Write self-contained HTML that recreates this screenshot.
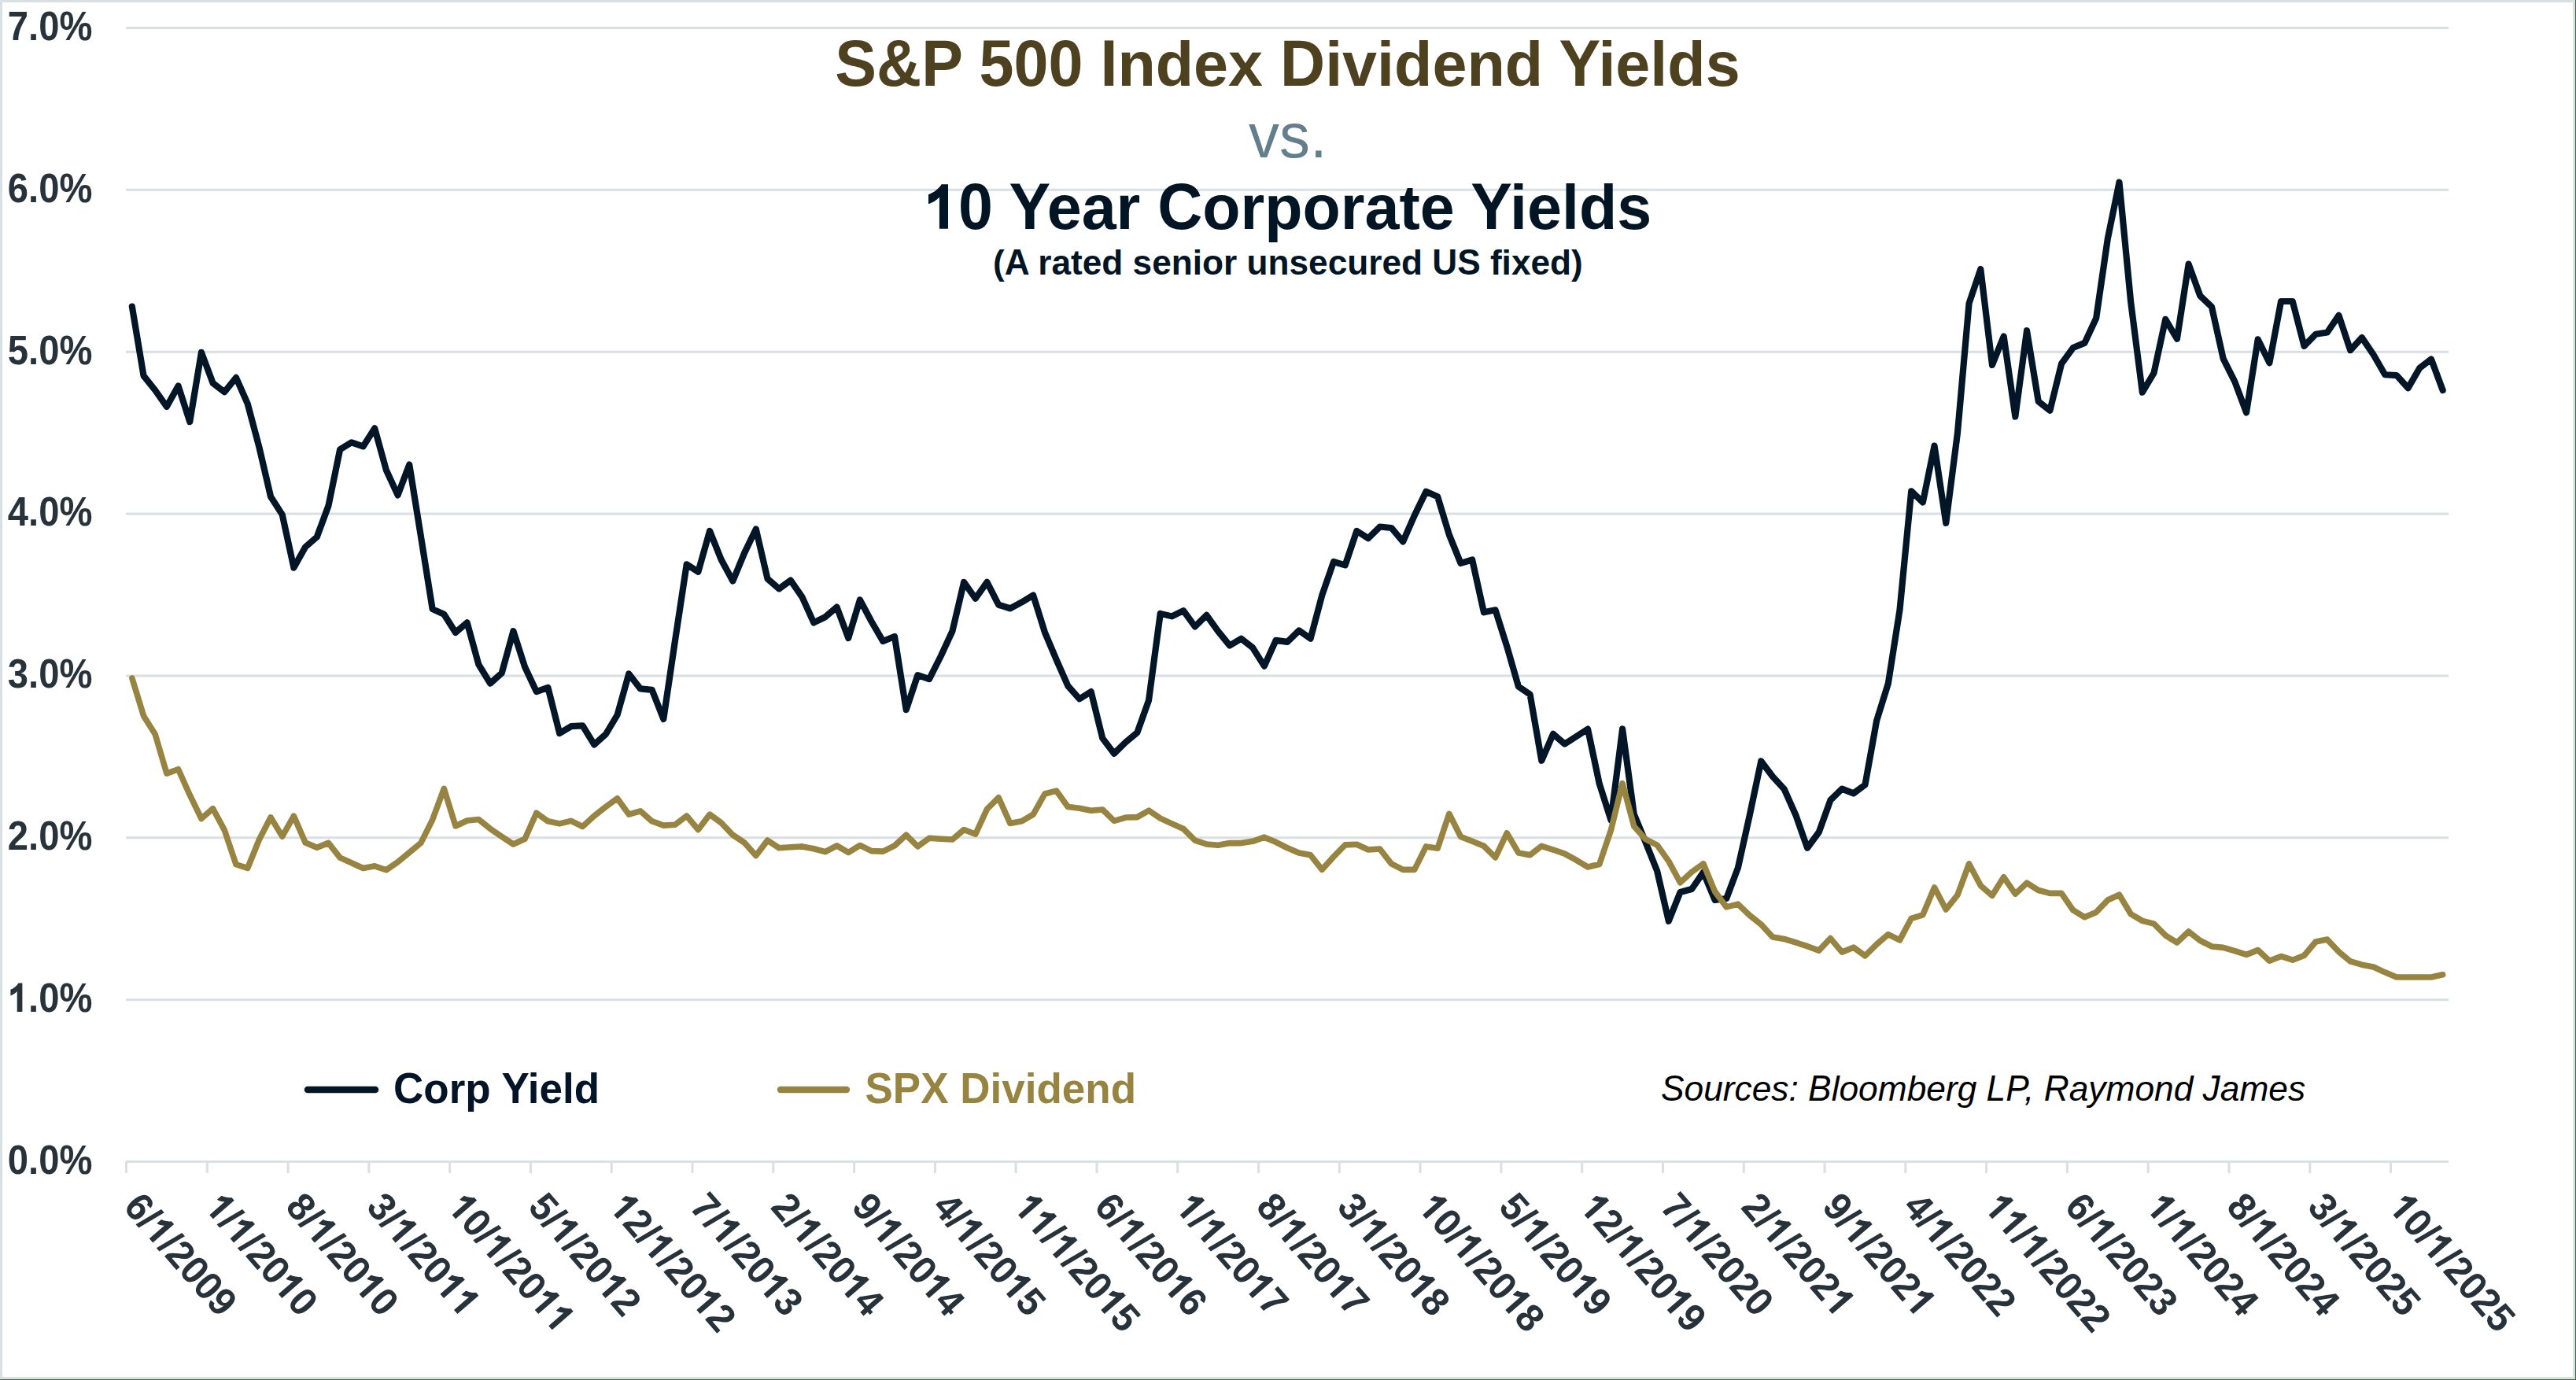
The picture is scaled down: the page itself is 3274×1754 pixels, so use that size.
<!DOCTYPE html><html><head><meta charset="utf-8"><title>S&amp;P 500 Dividend Yields vs Corporate Yields</title><style>
html,body{margin:0;padding:0;background:#fff;}body{width:3274px;height:1754px;overflow:hidden;position:relative;}
svg{position:absolute;left:0;top:0;display:block;}text{font-family:"Liberation Sans",sans-serif;}
</style></head><body>
<svg width="3274" height="1754" viewBox="0 0 3274 1754">
<defs><path id="one" d="M516 0L804 0L804 1466L586 1466C556 1408 486 1334 400 1268C320 1208 236 1162 155 1129L155 817C292 862 420 936 516 1038Z"/></defs>
<rect x="0" y="0" width="3274" height="1754" fill="#ffffff"/>
<rect x="1.5" y="1.5" width="3270" height="1750" fill="none" stroke="#d9e0e3" stroke-width="3"/>
<rect x="3273" y="0" width="1" height="1754" fill="#3c6b40"/>
<rect x="0" y="1753" width="3274" height="1" fill="#3c6b40"/>
<path d="M160.0 1270.64H3112.0M160.0 1064.79H3112.0M160.0 858.93H3112.0M160.0 653.07H3112.0M160.0 447.21H3112.0M160.0 241.36H3112.0M160.0 35.50H3112.0" stroke="#d9e0e3" stroke-width="3" fill="none"/>
<path d="M160.0 1476.50H3112.0M160.50 1476.50V1491.0M263.29 1476.50V1491.0M366.08 1476.50V1491.0M468.87 1476.50V1491.0M571.65 1476.50V1491.0M674.44 1476.50V1491.0M777.23 1476.50V1491.0M880.02 1476.50V1491.0M982.81 1476.50V1491.0M1085.60 1476.50V1491.0M1188.39 1476.50V1491.0M1291.17 1476.50V1491.0M1393.96 1476.50V1491.0M1496.75 1476.50V1491.0M1599.54 1476.50V1491.0M1702.33 1476.50V1491.0M1805.12 1476.50V1491.0M1907.91 1476.50V1491.0M2010.69 1476.50V1491.0M2113.48 1476.50V1491.0M2216.27 1476.50V1491.0M2319.06 1476.50V1491.0M2421.85 1476.50V1491.0M2524.64 1476.50V1491.0M2627.43 1476.50V1491.0M2730.21 1476.50V1491.0M2833.00 1476.50V1491.0M2935.79 1476.50V1491.0M3038.58 1476.50V1491.0" stroke="#d9e0e3" stroke-width="3" fill="none"/>
<polyline points="167.84,389.58 182.53,477.68 197.21,496.00 211.89,516.79 226.58,490.44 241.26,536.15 255.95,447.83 270.63,486.95 285.31,498.27 300.00,479.95 314.68,513.09 329.37,568.26 344.05,631.25 358.74,654.10 373.42,721.62 388.10,695.27 402.79,682.51 417.47,642.78 432.16,571.14 446.84,562.29 461.52,567.44 476.21,544.38 490.89,597.49 505.58,629.40 520.26,590.49 534.94,681.89 549.63,774.12 564.31,780.70 579.00,803.97 593.68,791.41 608.36,844.72 623.05,868.60 637.73,855.43 652.42,802.11 667.10,847.81 681.78,879.10 696.47,873.96 711.15,932.01 725.84,923.16 740.52,922.33 755.21,946.42 769.89,933.24 784.57,908.75 799.26,856.46 813.94,875.40 828.63,876.84 843.31,913.89 857.99,814.46 872.68,717.30 887.36,726.77 902.05,674.89 916.73,711.54 931.41,738.50 946.10,702.89 960.78,672.42 975.47,735.62 990.15,748.38 1004.83,737.68 1019.52,758.88 1034.20,791.41 1048.89,784.20 1063.57,771.65 1078.25,810.96 1092.94,762.38 1107.62,789.97 1122.31,815.08 1136.99,808.91 1151.68,902.16 1166.36,858.11 1181.04,863.05 1195.73,834.02 1210.41,802.32 1225.10,739.94 1239.78,760.74 1254.46,739.94 1269.15,768.76 1283.83,773.29 1298.52,765.47 1313.20,756.62 1327.88,803.55 1342.57,838.34 1357.25,871.69 1371.94,888.37 1386.62,879.10 1401.30,938.39 1415.99,957.74 1430.67,943.33 1445.36,931.18 1460.04,890.01 1474.73,779.88 1489.41,783.38 1504.09,776.17 1518.78,796.35 1533.46,781.94 1548.15,802.32 1562.83,820.43 1577.51,811.79 1592.20,823.32 1606.88,846.58 1621.57,813.85 1636.25,815.90 1650.93,801.49 1665.62,811.58 1680.30,756.41 1694.99,714.01 1709.67,718.33 1724.35,674.89 1739.04,684.16 1753.72,669.54 1768.41,670.98 1783.09,688.48 1797.77,655.13 1812.46,624.66 1827.14,631.25 1841.83,679.63 1856.51,715.86 1871.20,711.54 1885.88,778.23 1900.56,775.35 1915.25,821.67 1929.93,872.52 1944.62,882.60 1959.30,966.80 1973.98,932.83 1988.67,945.59 2003.35,936.13 2018.04,926.66 2032.72,996.03 2047.40,1042.14 2062.09,926.45 2076.77,1034.94 2091.46,1070.34 2106.14,1106.99 2120.82,1170.80 2135.51,1133.95 2150.19,1130.04 2164.88,1108.63 2179.56,1144.04 2194.25,1141.98 2208.93,1102.87 2223.61,1036.79 2238.30,967.42 2252.98,986.97 2267.67,1003.03 2282.35,1035.97 2297.03,1077.75 2311.72,1057.79 2326.40,1017.03 2341.09,1002.62 2355.77,1008.38 2370.45,997.47 2385.14,915.95 2399.82,868.81 2414.51,775.15 2429.19,624.25 2443.87,638.46 2458.56,566.61 2473.24,664.81 2487.93,550.56 2502.61,385.46 2517.29,342.02 2531.98,463.89 2546.66,427.45 2561.35,529.56 2576.03,420.25 2590.72,510.21 2605.40,521.74 2620.08,462.24 2634.77,442.07 2649.45,435.89 2664.14,404.60 2678.82,303.32 2693.50,231.68 2708.19,384.02 2722.87,498.68 2737.56,473.98 2752.24,405.84 2766.92,430.75 2781.61,335.64 2796.29,375.99 2810.98,389.99 2825.66,455.86 2840.34,485.09 2855.03,524.41 2869.71,431.36 2884.40,461.21 2899.08,382.99 2913.76,382.99 2928.45,439.80 2943.13,424.78 2957.82,422.51 2972.50,400.90 2987.19,445.16 3001.87,429.10 3016.55,450.71 3031.24,476.24 3045.92,477.06 3060.61,493.12 3075.29,467.80 3089.97,456.48 3104.66,496.00" fill="none" stroke="#021627" stroke-width="8.2" stroke-linejoin="round" stroke-linecap="round"/>
<polyline points="167.84,861.81 182.53,909.98 197.21,933.24 211.89,983.06 226.58,977.71 241.26,1010.44 255.95,1040.49 270.63,1027.73 285.31,1055.11 300.00,1098.75 314.68,1103.49 329.37,1067.26 344.05,1038.85 358.74,1063.14 373.42,1037.20 388.10,1070.96 402.79,1077.34 417.47,1071.37 432.16,1090.11 446.84,1096.69 461.52,1103.49 476.21,1100.81 490.89,1105.75 505.58,1095.66 520.26,1083.52 534.94,1071.37 549.63,1041.94 564.31,1002.41 579.00,1049.96 593.68,1042.97 608.36,1041.52 623.05,1053.26 637.73,1063.35 652.42,1073.02 667.10,1066.23 681.78,1033.29 696.47,1043.79 711.15,1046.88 725.84,1043.38 740.52,1050.58 755.21,1037.00 769.89,1025.47 784.57,1014.76 799.26,1035.14 813.94,1030.82 828.63,1043.79 843.31,1049.14 857.99,1048.32 872.68,1037.00 887.36,1054.49 902.05,1035.14 916.73,1045.85 931.41,1061.29 946.10,1070.96 960.78,1087.43 975.47,1068.08 990.15,1077.75 1004.83,1076.73 1019.52,1075.90 1034.20,1078.78 1048.89,1082.70 1063.57,1074.87 1078.25,1083.52 1092.94,1074.46 1107.62,1081.67 1122.31,1082.08 1136.99,1074.87 1151.68,1061.29 1166.36,1075.90 1181.04,1065.20 1195.73,1066.23 1210.41,1067.05 1225.10,1054.49 1239.78,1060.26 1254.46,1028.35 1269.15,1013.73 1283.83,1046.46 1298.52,1043.79 1313.20,1035.14 1327.88,1009.00 1342.57,1005.09 1357.25,1025.47 1371.94,1027.32 1386.62,1030.20 1401.30,1028.97 1415.99,1043.38 1430.67,1039.05 1445.36,1038.64 1460.04,1030.20 1474.73,1040.08 1489.41,1046.88 1504.09,1053.46 1518.78,1068.08 1533.46,1073.02 1548.15,1074.26 1562.83,1071.58 1577.51,1071.58 1592.20,1069.31 1606.88,1064.17 1621.57,1070.34 1636.25,1077.75 1650.93,1083.93 1665.62,1086.81 1680.30,1105.34 1694.99,1088.87 1709.67,1073.84 1724.35,1073.23 1739.04,1080.02 1753.72,1078.99 1768.41,1097.93 1783.09,1105.34 1797.77,1105.34 1812.46,1075.90 1827.14,1078.17 1841.83,1034.32 1856.51,1063.55 1871.20,1069.31 1885.88,1075.28 1900.56,1089.90 1915.25,1058.82 1929.93,1083.93 1944.62,1086.81 1959.30,1075.28 1973.98,1080.02 1988.67,1085.17 2003.35,1093.19 2018.04,1102.05 2032.72,1098.55 2047.40,1055.32 2062.09,995.62 2076.77,1050.17 2091.46,1066.64 2106.14,1074.05 2120.82,1094.64 2135.51,1121.81 2150.19,1108.22 2164.88,1097.72 2179.56,1133.13 2194.25,1152.89 2208.93,1149.19 2223.61,1163.19 2238.30,1174.92 2252.98,1190.98 2267.67,1193.45 2282.35,1197.98 2297.03,1202.71 2311.72,1208.06 2326.40,1192.62 2341.09,1210.12 2355.77,1204.15 2370.45,1214.86 2385.14,1200.24 2399.82,1187.68 2414.51,1194.89 2429.19,1167.30 2443.87,1162.77 2458.56,1127.98 2473.24,1155.98 2487.93,1137.66 2502.61,1097.93 2517.29,1125.51 2531.98,1138.28 2546.66,1114.81 2561.35,1136.22 2576.03,1122.22 2590.72,1131.48 2605.40,1135.39 2620.08,1135.39 2634.77,1156.80 2649.45,1165.66 2664.14,1159.48 2678.82,1144.04 2693.50,1137.25 2708.19,1161.74 2722.87,1170.39 2737.56,1174.10 2752.24,1188.92 2766.92,1197.98 2781.61,1183.98 2796.29,1195.51 2810.98,1202.92 2825.66,1204.36 2840.34,1208.68 2855.03,1213.41 2869.71,1207.65 2884.40,1221.24 2899.08,1215.47 2913.76,1220.21 2928.45,1214.44 2943.13,1196.95 2957.82,1194.06 2972.50,1209.71 2987.19,1221.85 3001.87,1226.18 3016.55,1229.06 3031.24,1235.85 3045.92,1242.03 3060.61,1242.03 3075.29,1242.03 3089.97,1242.03 3104.66,1238.74" fill="none" stroke="#978441" stroke-width="7.6" stroke-linejoin="round" stroke-linecap="round"/>
<g transform="translate(117.50 1491.80) scale(0.964 1.04) translate(-111.69 0)"><text x="0.00 27.25 40.87 68.12" y="0" font-size="49" font-weight="bold" fill="#27323a">0.0%</text></g>
<g transform="translate(117.50 1285.94) scale(0.964 1.04) translate(-111.69 0)"><text x="27.25 40.87 68.12" y="0" font-size="49" font-weight="bold" fill="#27323a">.0%</text><use href="#one" transform="translate(0.00 0) scale(0.02393 -0.02393)" fill="#27323a"/></g>
<g transform="translate(117.50 1080.09) scale(0.964 1.04) translate(-111.69 0)"><text x="0.00 27.25 40.87 68.12" y="0" font-size="49" font-weight="bold" fill="#27323a">2.0%</text></g>
<g transform="translate(117.50 874.23) scale(0.964 1.04) translate(-111.69 0)"><text x="0.00 27.25 40.87 68.12" y="0" font-size="49" font-weight="bold" fill="#27323a">3.0%</text></g>
<g transform="translate(117.50 668.37) scale(0.964 1.04) translate(-111.69 0)"><text x="0.00 27.25 40.87 68.12" y="0" font-size="49" font-weight="bold" fill="#27323a">4.0%</text></g>
<g transform="translate(117.50 462.51) scale(0.964 1.04) translate(-111.69 0)"><text x="0.00 27.25 40.87 68.12" y="0" font-size="49" font-weight="bold" fill="#27323a">5.0%</text></g>
<g transform="translate(117.50 256.66) scale(0.964 1.04) translate(-111.69 0)"><text x="0.00 27.25 40.87 68.12" y="0" font-size="49" font-weight="bold" fill="#27323a">6.0%</text></g>
<g transform="translate(117.50 50.80) scale(0.964 1.04) translate(-111.69 0)"><text x="0.00 27.25 40.87 68.12" y="0" font-size="49" font-weight="bold" fill="#27323a">7.0%</text></g>
<g transform="translate(155.60 1535.00) rotate(49) scale(1 1.04)"><text x="0.00 26.70 66.73 80.06 106.76 133.45 160.15" y="0" font-size="48" font-weight="bold" fill="#27323a">6//2009</text><use href="#one" transform="translate(40.03 0) scale(0.02344 -0.02344)" fill="#27323a"/></g>
<g transform="translate(258.39 1535.00) rotate(49) scale(1 1.04)"><text x="26.70 66.73 80.06 106.76 160.15" y="0" font-size="48" font-weight="bold" fill="#27323a">//200</text><use href="#one" transform="translate(0.00 0) scale(0.02344 -0.02344)" fill="#27323a"/><use href="#one" transform="translate(40.03 0) scale(0.02344 -0.02344)" fill="#27323a"/><use href="#one" transform="translate(133.45 0) scale(0.02344 -0.02344)" fill="#27323a"/></g>
<g transform="translate(361.18 1535.00) rotate(49) scale(1 1.04)"><text x="0.00 26.70 66.73 80.06 106.76 160.15" y="0" font-size="48" font-weight="bold" fill="#27323a">8//200</text><use href="#one" transform="translate(40.03 0) scale(0.02344 -0.02344)" fill="#27323a"/><use href="#one" transform="translate(133.45 0) scale(0.02344 -0.02344)" fill="#27323a"/></g>
<g transform="translate(463.97 1535.00) rotate(49) scale(1 1.04)"><text x="0.00 26.70 66.73 80.06 106.76" y="0" font-size="48" font-weight="bold" fill="#27323a">3//20</text><use href="#one" transform="translate(40.03 0) scale(0.02344 -0.02344)" fill="#27323a"/><use href="#one" transform="translate(133.45 0) scale(0.02344 -0.02344)" fill="#27323a"/><use href="#one" transform="translate(160.15 0) scale(0.02344 -0.02344)" fill="#27323a"/></g>
<g transform="translate(566.75 1535.00) rotate(49) scale(1 1.04)"><text x="26.70 53.39 93.42 106.76 133.45" y="0" font-size="48" font-weight="bold" fill="#27323a">0//20</text><use href="#one" transform="translate(0.00 0) scale(0.02344 -0.02344)" fill="#27323a"/><use href="#one" transform="translate(66.73 0) scale(0.02344 -0.02344)" fill="#27323a"/><use href="#one" transform="translate(160.15 0) scale(0.02344 -0.02344)" fill="#27323a"/><use href="#one" transform="translate(186.84 0) scale(0.02344 -0.02344)" fill="#27323a"/></g>
<g transform="translate(669.54 1535.00) rotate(49) scale(1 1.04)"><text x="0.00 26.70 66.73 80.06 106.76 160.15" y="0" font-size="48" font-weight="bold" fill="#27323a">5//202</text><use href="#one" transform="translate(40.03 0) scale(0.02344 -0.02344)" fill="#27323a"/><use href="#one" transform="translate(133.45 0) scale(0.02344 -0.02344)" fill="#27323a"/></g>
<g transform="translate(772.33 1535.00) rotate(49) scale(1 1.04)"><text x="26.70 53.39 93.42 106.76 133.45 186.84" y="0" font-size="48" font-weight="bold" fill="#27323a">2//202</text><use href="#one" transform="translate(0.00 0) scale(0.02344 -0.02344)" fill="#27323a"/><use href="#one" transform="translate(66.73 0) scale(0.02344 -0.02344)" fill="#27323a"/><use href="#one" transform="translate(160.15 0) scale(0.02344 -0.02344)" fill="#27323a"/></g>
<g transform="translate(875.12 1535.00) rotate(49) scale(1 1.04)"><text x="0.00 26.70 66.73 80.06 106.76 160.15" y="0" font-size="48" font-weight="bold" fill="#27323a">7//203</text><use href="#one" transform="translate(40.03 0) scale(0.02344 -0.02344)" fill="#27323a"/><use href="#one" transform="translate(133.45 0) scale(0.02344 -0.02344)" fill="#27323a"/></g>
<g transform="translate(977.91 1535.00) rotate(49) scale(1 1.04)"><text x="0.00 26.70 66.73 80.06 106.76 160.15" y="0" font-size="48" font-weight="bold" fill="#27323a">2//204</text><use href="#one" transform="translate(40.03 0) scale(0.02344 -0.02344)" fill="#27323a"/><use href="#one" transform="translate(133.45 0) scale(0.02344 -0.02344)" fill="#27323a"/></g>
<g transform="translate(1080.70 1535.00) rotate(49) scale(1 1.04)"><text x="0.00 26.70 66.73 80.06 106.76 160.15" y="0" font-size="48" font-weight="bold" fill="#27323a">9//204</text><use href="#one" transform="translate(40.03 0) scale(0.02344 -0.02344)" fill="#27323a"/><use href="#one" transform="translate(133.45 0) scale(0.02344 -0.02344)" fill="#27323a"/></g>
<g transform="translate(1183.49 1535.00) rotate(49) scale(1 1.04)"><text x="0.00 26.70 66.73 80.06 106.76 160.15" y="0" font-size="48" font-weight="bold" fill="#27323a">4//205</text><use href="#one" transform="translate(40.03 0) scale(0.02344 -0.02344)" fill="#27323a"/><use href="#one" transform="translate(133.45 0) scale(0.02344 -0.02344)" fill="#27323a"/></g>
<g transform="translate(1286.27 1535.00) rotate(49) scale(1 1.04)"><text x="53.39 93.42 106.76 133.45 186.84" y="0" font-size="48" font-weight="bold" fill="#27323a">//205</text><use href="#one" transform="translate(0.00 0) scale(0.02344 -0.02344)" fill="#27323a"/><use href="#one" transform="translate(26.70 0) scale(0.02344 -0.02344)" fill="#27323a"/><use href="#one" transform="translate(66.73 0) scale(0.02344 -0.02344)" fill="#27323a"/><use href="#one" transform="translate(160.15 0) scale(0.02344 -0.02344)" fill="#27323a"/></g>
<g transform="translate(1389.06 1535.00) rotate(49) scale(1 1.04)"><text x="0.00 26.70 66.73 80.06 106.76 160.15" y="0" font-size="48" font-weight="bold" fill="#27323a">6//206</text><use href="#one" transform="translate(40.03 0) scale(0.02344 -0.02344)" fill="#27323a"/><use href="#one" transform="translate(133.45 0) scale(0.02344 -0.02344)" fill="#27323a"/></g>
<g transform="translate(1491.85 1535.00) rotate(49) scale(1 1.04)"><text x="26.70 66.73 80.06 106.76 160.15" y="0" font-size="48" font-weight="bold" fill="#27323a">//207</text><use href="#one" transform="translate(0.00 0) scale(0.02344 -0.02344)" fill="#27323a"/><use href="#one" transform="translate(40.03 0) scale(0.02344 -0.02344)" fill="#27323a"/><use href="#one" transform="translate(133.45 0) scale(0.02344 -0.02344)" fill="#27323a"/></g>
<g transform="translate(1594.64 1535.00) rotate(49) scale(1 1.04)"><text x="0.00 26.70 66.73 80.06 106.76 160.15" y="0" font-size="48" font-weight="bold" fill="#27323a">8//207</text><use href="#one" transform="translate(40.03 0) scale(0.02344 -0.02344)" fill="#27323a"/><use href="#one" transform="translate(133.45 0) scale(0.02344 -0.02344)" fill="#27323a"/></g>
<g transform="translate(1697.43 1535.00) rotate(49) scale(1 1.04)"><text x="0.00 26.70 66.73 80.06 106.76 160.15" y="0" font-size="48" font-weight="bold" fill="#27323a">3//208</text><use href="#one" transform="translate(40.03 0) scale(0.02344 -0.02344)" fill="#27323a"/><use href="#one" transform="translate(133.45 0) scale(0.02344 -0.02344)" fill="#27323a"/></g>
<g transform="translate(1800.22 1535.00) rotate(49) scale(1 1.04)"><text x="26.70 53.39 93.42 106.76 133.45 186.84" y="0" font-size="48" font-weight="bold" fill="#27323a">0//208</text><use href="#one" transform="translate(0.00 0) scale(0.02344 -0.02344)" fill="#27323a"/><use href="#one" transform="translate(66.73 0) scale(0.02344 -0.02344)" fill="#27323a"/><use href="#one" transform="translate(160.15 0) scale(0.02344 -0.02344)" fill="#27323a"/></g>
<g transform="translate(1903.01 1535.00) rotate(49) scale(1 1.04)"><text x="0.00 26.70 66.73 80.06 106.76 160.15" y="0" font-size="48" font-weight="bold" fill="#27323a">5//209</text><use href="#one" transform="translate(40.03 0) scale(0.02344 -0.02344)" fill="#27323a"/><use href="#one" transform="translate(133.45 0) scale(0.02344 -0.02344)" fill="#27323a"/></g>
<g transform="translate(2005.79 1535.00) rotate(49) scale(1 1.04)"><text x="26.70 53.39 93.42 106.76 133.45 186.84" y="0" font-size="48" font-weight="bold" fill="#27323a">2//209</text><use href="#one" transform="translate(0.00 0) scale(0.02344 -0.02344)" fill="#27323a"/><use href="#one" transform="translate(66.73 0) scale(0.02344 -0.02344)" fill="#27323a"/><use href="#one" transform="translate(160.15 0) scale(0.02344 -0.02344)" fill="#27323a"/></g>
<g transform="translate(2108.58 1535.00) rotate(49) scale(1 1.04)"><text x="0.00 26.70 66.73 80.06 106.76 133.45 160.15" y="0" font-size="48" font-weight="bold" fill="#27323a">7//2020</text><use href="#one" transform="translate(40.03 0) scale(0.02344 -0.02344)" fill="#27323a"/></g>
<g transform="translate(2211.37 1535.00) rotate(49) scale(1 1.04)"><text x="0.00 26.70 66.73 80.06 106.76 133.45" y="0" font-size="48" font-weight="bold" fill="#27323a">2//202</text><use href="#one" transform="translate(40.03 0) scale(0.02344 -0.02344)" fill="#27323a"/><use href="#one" transform="translate(160.15 0) scale(0.02344 -0.02344)" fill="#27323a"/></g>
<g transform="translate(2314.16 1535.00) rotate(49) scale(1 1.04)"><text x="0.00 26.70 66.73 80.06 106.76 133.45" y="0" font-size="48" font-weight="bold" fill="#27323a">9//202</text><use href="#one" transform="translate(40.03 0) scale(0.02344 -0.02344)" fill="#27323a"/><use href="#one" transform="translate(160.15 0) scale(0.02344 -0.02344)" fill="#27323a"/></g>
<g transform="translate(2416.95 1535.00) rotate(49) scale(1 1.04)"><text x="0.00 26.70 66.73 80.06 106.76 133.45 160.15" y="0" font-size="48" font-weight="bold" fill="#27323a">4//2022</text><use href="#one" transform="translate(40.03 0) scale(0.02344 -0.02344)" fill="#27323a"/></g>
<g transform="translate(2519.74 1535.00) rotate(49) scale(1 1.04)"><text x="53.39 93.42 106.76 133.45 160.15 186.84" y="0" font-size="48" font-weight="bold" fill="#27323a">//2022</text><use href="#one" transform="translate(0.00 0) scale(0.02344 -0.02344)" fill="#27323a"/><use href="#one" transform="translate(26.70 0) scale(0.02344 -0.02344)" fill="#27323a"/><use href="#one" transform="translate(66.73 0) scale(0.02344 -0.02344)" fill="#27323a"/></g>
<g transform="translate(2622.53 1535.00) rotate(49) scale(1 1.04)"><text x="0.00 26.70 66.73 80.06 106.76 133.45 160.15" y="0" font-size="48" font-weight="bold" fill="#27323a">6//2023</text><use href="#one" transform="translate(40.03 0) scale(0.02344 -0.02344)" fill="#27323a"/></g>
<g transform="translate(2725.31 1535.00) rotate(49) scale(1 1.04)"><text x="26.70 66.73 80.06 106.76 133.45 160.15" y="0" font-size="48" font-weight="bold" fill="#27323a">//2024</text><use href="#one" transform="translate(0.00 0) scale(0.02344 -0.02344)" fill="#27323a"/><use href="#one" transform="translate(40.03 0) scale(0.02344 -0.02344)" fill="#27323a"/></g>
<g transform="translate(2828.10 1535.00) rotate(49) scale(1 1.04)"><text x="0.00 26.70 66.73 80.06 106.76 133.45 160.15" y="0" font-size="48" font-weight="bold" fill="#27323a">8//2024</text><use href="#one" transform="translate(40.03 0) scale(0.02344 -0.02344)" fill="#27323a"/></g>
<g transform="translate(2930.89 1535.00) rotate(49) scale(1 1.04)"><text x="0.00 26.70 66.73 80.06 106.76 133.45 160.15" y="0" font-size="48" font-weight="bold" fill="#27323a">3//2025</text><use href="#one" transform="translate(40.03 0) scale(0.02344 -0.02344)" fill="#27323a"/></g>
<g transform="translate(3033.68 1535.00) rotate(49) scale(1 1.04)"><text x="26.70 53.39 93.42 106.76 133.45 160.15 186.84" y="0" font-size="48" font-weight="bold" fill="#27323a">0//2025</text><use href="#one" transform="translate(0.00 0) scale(0.02344 -0.02344)" fill="#27323a"/><use href="#one" transform="translate(66.73 0) scale(0.02344 -0.02344)" fill="#27323a"/></g>
<text x="1420.45 1468.76 1517.07 1561.07 1684.15 1706.12 1750.10 1772.09 1820.40 1864.38 1912.70 2031.38 2053.35 2097.34 2119.32 2167.63" y="108.90" font-size="79.1" fill="#4d4120" font-weight="bold">ndexividendields</text><g transform="translate(0 108.90) scale(1 1.045)"><text x="1061.37 1114.12 1171.23 1244.54 1288.52 1332.51 1398.48 1627.02 1981.55" y="0" font-size="79.1" fill="#4d4120" font-weight="bold">S&amp;P500IDY</text></g>
<text transform="translate(1636.8 200) scale(0.973 1)" text-anchor="middle" font-size="80" fill="#637f8e">vs.</text>
<use href="#one" transform="translate(1174.0 290.8) scale(0.03857 -0.03857)" fill="#021524"/>
<text x="1330.72 1374.66 1418.60 1528.35 1576.60 1607.35 1655.60 1703.85 1734.60 1778.53 1804.85 1919.06 1941.00 1984.94 2006.89 2055.14" y="290.80" font-size="79" fill="#021524" font-weight="bold">earorporateields</text><g transform="translate(0 290.80) scale(1 1.045)"><text x="1217.94 1282.39 1471.28 1869.30" y="0" font-size="79" fill="#021524" font-weight="bold">0YCY</text></g>
<text x="1262.03 1319.28 1336.49 1361.06 1375.77 1400.35 1439.61 1464.19 1488.77 1515.75 1528.03 1555.03 1584.50 1611.49 1638.49 1663.06 1687.63 1712.20 1739.20 1756.39 1780.97 1893.89 1908.61 1920.89 1945.47 1970.03 1997.03" y="348.80" font-size="44.2" fill="#021524" font-weight="bold">(ratedseniorunsecuredfixed)</text><g transform="translate(0 348.80) scale(1 1.036)"><text x="1276.74 1820.24 1852.14" y="0" font-size="44.2" fill="#021524" font-weight="bold">AUS</text></g>
<path d="M391 1385H477" stroke="#021627" stroke-width="8.5" stroke-linecap="round"/>
<text x="538.27 570.64 591.27 670.80 685.52 715.00 729.72" y="1401.60" font-size="53" fill="#031428" font-weight="bold">orpield</text><g transform="translate(0 1401.60) scale(1 1.035)"><text x="500.00 637.41" y="0" font-size="53" fill="#031428" font-weight="bold">CY</text></g>
<path d="M992 1385H1076" stroke="#978441" stroke-width="8.4" stroke-linecap="round"/>
<text x="1258.55 1273.27 1302.75 1317.47 1349.84 1379.33 1411.70" y="1402.00" font-size="53" fill="#978441" font-weight="bold">ividend</text><g transform="translate(0 1402.00) scale(1 1.035)"><text x="1099.50 1134.84 1170.19 1220.27" y="0" font-size="53" fill="#978441" font-weight="bold">SPXD</text></g>
<text x="2140.53 2165.17 2189.81 2204.56 2226.70 2251.34 2273.50 2327.66 2337.50 2362.12 2386.77 2423.67 2448.30 2472.94 2487.69 2573.11 2629.70 2654.34 2676.48 2713.39 2738.03 2762.66 2821.75 2846.39 2883.28 2907.92" y="1399.00" font-size="44.3" fill="#000" font-style="italic">ources:loomberg,aymondames</text><g transform="translate(0 1399.00) scale(1 1.047)"><text x="2111.00 2298.11 2524.62 2549.27 2597.72 2799.61" y="0" font-size="44.3" fill="#000" font-style="italic">SBLPRJ</text></g>
</svg></body></html>
